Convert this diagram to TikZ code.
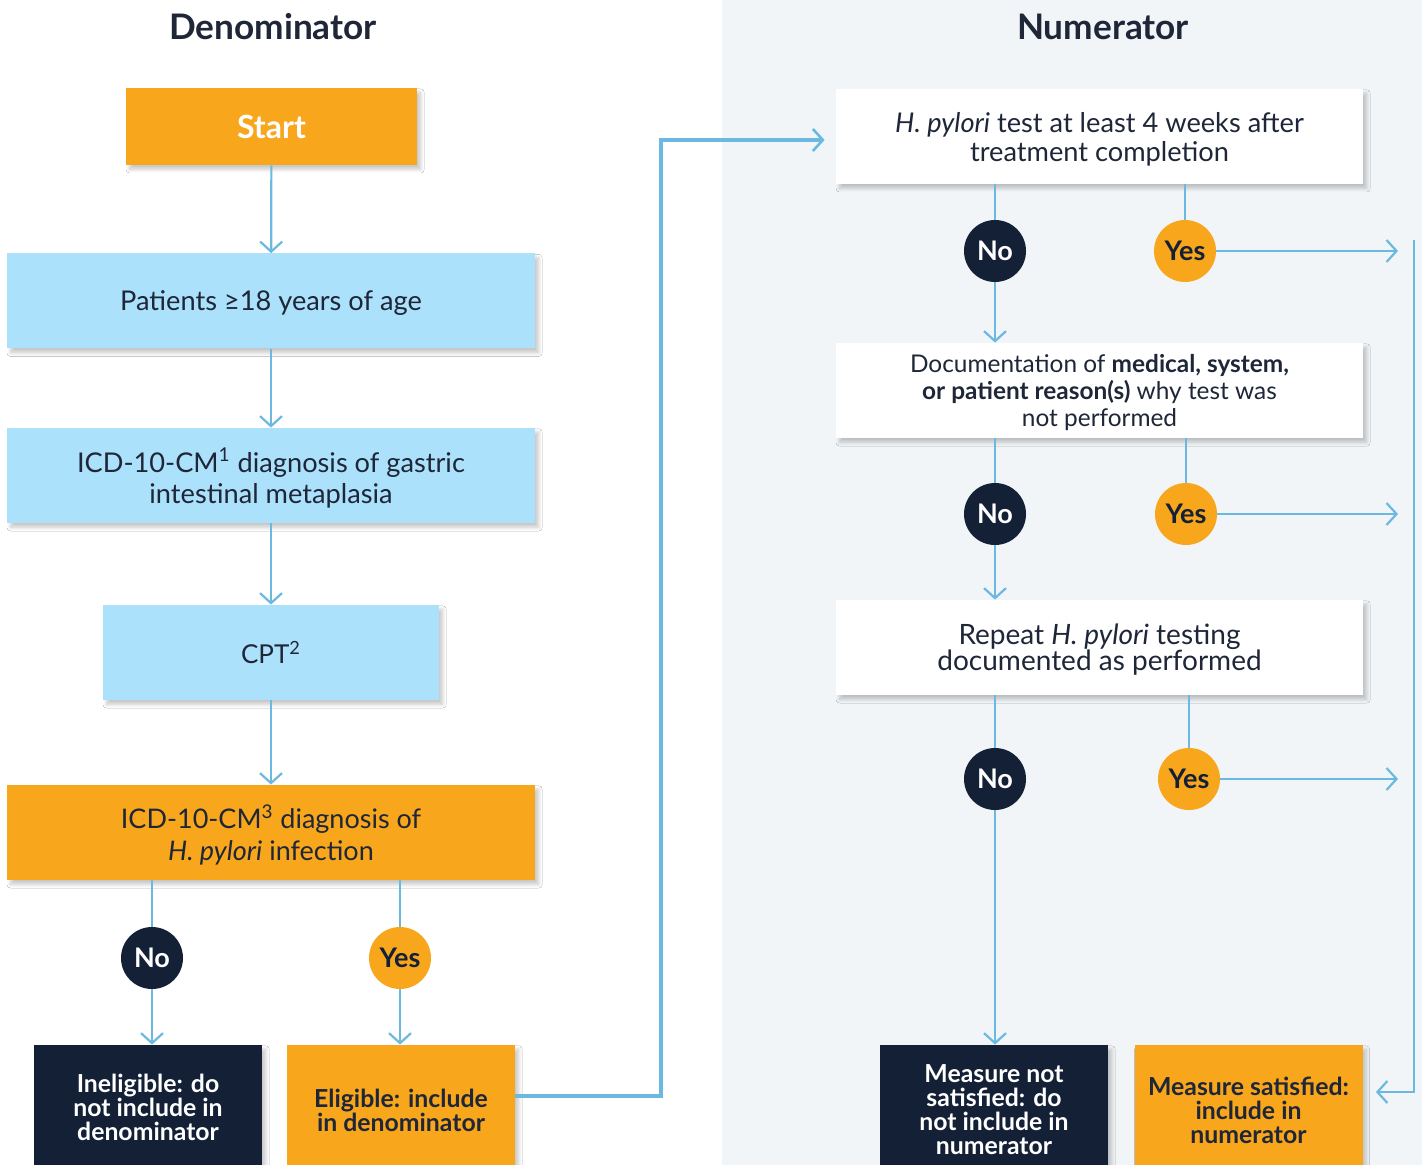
\documentclass[tikz,border=0pt]{standalone}
\usepackage{fontspec}
\setmainfont{Lato}
\usepackage{tikz}
\usetikzlibrary{positioning, arrows.meta, shadows.blur}
\definecolor{HpOrange}{RGB}{248,166,28}
\definecolor{SkyBlue}{RGB}{171,225,250}
\definecolor{NavyInk}{RGB}{19,32,54}
\definecolor{FlowBlue}{RGB}{107,185,224}
\definecolor{PanelGrey}{RGB}{241,245,248}
\definecolor{TextInk}{RGB}{30,38,56}

\begin{document}
\begin{tikzpicture}[x=0.5pt, y=-0.5pt,
    box/.style={rectangle, minimum width=#1, minimum height=47.5pt, inner sep=0pt,
        align=center, text=TextInk, text depth=0pt, font=\fontsize{13.6}{16}\selectfont,
        blur shadow={shadow xshift=1.8pt, shadow yshift=-2.2pt, shadow blur radius=1.8pt,
            shadow blur steps=8, shadow opacity=22}},
    box/.default=264pt,
    bluebox/.style={box=#1, fill=SkyBlue},
    bluebox/.default=264pt,
    orangebox/.style={box=#1, fill=HpOrange},
    orangebox/.default=264pt,
    whitebox/.style={box=263.5pt, fill=white},
    endbox/.style={rectangle, minimum width=114pt, minimum height=65pt, inner sep=0pt,
        align=center, font=\fontsize{12.4}{12}\selectfont\bfseries,
        blur shadow={shadow xshift=1.8pt, shadow yshift=-2.2pt, shadow blur radius=1.8pt,
            shadow blur steps=8, shadow opacity=22}},
    nocirc/.style={circle, fill=NavyInk, text=white, minimum size=31pt, inner sep=0pt,
        font=\fontsize{13.5}{15}\selectfont\bfseries},
    yescirc/.style={circle, fill=HpOrange, text=NavyInk, minimum size=31pt, inner sep=0pt,
        font=\fontsize{13.5}{15}\selectfont\bfseries},
    title/.style={font=\fontsize{17.6}{20}\selectfont\bfseries, text=TextInk},
    flow/.style={draw=FlowBlue, line width=1.1pt},
    flowarr/.style={flow, -{Straight Barb[length=5pt, width=11pt]}},
    flowthick/.style={draw=FlowBlue, line width=2pt, -{Straight Barb[length=5pt, width=11pt, line width=1.3pt]}}
]
    % Lienzo y panel derecho
    \useasboundingbox (0,0) rectangle (1422,1165);
    \fill[white] (0,0) rectangle (722,1165);
    \fill[PanelGrey] (722,0) rectangle (1422,1165);

    % Titulos
    \node[title] (denom) at (273,27) {Denominator};
    \node[title] (numer) at (1103,27) {Numerator};

    % Columna del denominador
    \node[orangebox=145.5pt, minimum height=38.5pt, text=white,
        font=\fontsize{16}{18}\selectfont\bfseries] (start) at (271.5,126.5) {Start};
    \node[bluebox] (age) at (271,301) {Patients ≥18 years of age};
    \node[bluebox, font=\fontsize{13.6}{15.5}\selectfont] (icdgim) at (271,475.5)
        {ICD-10-CM\textsuperscript{1} diagnosis of gastric\\intestinal metaplasia};
    \node[bluebox=168pt, font=\fontsize{13}{15}\selectfont] (cpt) at (271,652.5) {CPT\textsuperscript{2}};
    \node[orangebox, font=\fontsize{13.5}{16}\selectfont] (icdhp) at (271,832.5)
        {ICD-10-CM\textsuperscript{3} diagnosis of\\\textit{H. pylori} infection};
    \node[endbox, minimum height=62pt, fill=NavyInk, text=white] (inelig) at (148,1107)
        {Ineligible: do\\not include in\\denominator};
    \node[endbox, fill=HpOrange, text=TextInk] (elig) at (401,1110)
        {Eligible: include\\in denominator};

    % Columna del numerador
    \node[whitebox, font=\fontsize{13.6}{14.5}\selectfont] (test) at (1099.5,136.5)
        {\textit{H. pylori} test at least 4 weeks after\\treatment completion};
    \node[whitebox, font=\fontsize{12.2}{13.3}\selectfont] (doc) at (1099.5,390.5)
        {Documentation of \textbf{medical, system,}\\\textbf{or patient reason(s)} why test was\\not performed};
    \node[whitebox, font=\fontsize{14}{13}\selectfont] (repeat) at (1099.5,647.5)
        {Repeat \textit{H. pylori} testing\\documented as performed};
    \node[endbox, fill=NavyInk, text=white] (notsat) at (994,1110)
        {Measure not\\satisfied: do\\not include in\\numerator};
    \node[endbox, fill=HpOrange, text=TextInk] (sat) at (1248.5,1110)
        {Measure satisfied:\\include in\\numerator};

    % Circulos de decision
    \foreach \nm/\x/\y in {no0/152/958, no1/995/251, no2/995/514, no3/995/779}
        \node[nocirc] (\nm) at (\x,\y) {No};
    \foreach \nm/\x/\y in {yes0/400/958, yes1/1185/251, yes2/1186/514, yes3/1189/779}
        \node[yescirc] (\nm) at (\x,\y) {Yes};

    % Flechas del denominador
    \draw[flowarr] (start) -- (age);
    \draw[flowarr] (age) -- (icdgim);
    \draw[flowarr] (icdgim) -- (cpt);
    \draw[flowarr] (cpt) -- (icdhp);
    \draw[flow] (no0 |- icdhp.south) -- (no0.north);
    \draw[flowarr] (no0.south) -- (no0 |- inelig.north);
    \draw[flow] (yes0 |- icdhp.south) -- (yes0.north);
    \draw[flowarr] (yes0.south) -- (yes0 |- elig.north);

    % Paso al numerador
    \coordinate (bend) at (661,1096);
    \draw[flowthick] ([yshift=7pt]elig.east) -- (bend) |- ([xshift=-5.5pt, yshift=-1.75pt]test.west);

    % Flechas del numerador
    \draw[flow] (no1 |- test.south) -- (no1.north);
    \draw[flowarr] (no1.south) -- (no1 |- doc.north);
    \draw[flow] (yes1 |- test.south) -- (yes1.north);
    \draw[flow] (no2 |- doc.south) -- (no2.north);
    \draw[flowarr] (no2.south) -- (no2 |- repeat.north);
    \draw[flow] (yes2 |- doc.south) -- (yes2.north);
    \draw[flow] (no3 |- repeat.south) -- (no3.north);
    \draw[flowarr] (no3.south) -- (no3 |- notsat.north);
    \draw[flow] (yes3 |- repeat.south) -- (yes3.north);

    % Salidas "Yes" hacia la derecha
    \coordinate (rightedge) at (1398,251);
    \foreach \nm in {yes1, yes2, yes3}
        \draw[flowarr] (\nm.east) -- (\nm -| rightedge);

    % Retorno a "Measure satisfied"
    \coordinate (railtop) at (1414,240);
    \draw[flowarr] (railtop) |- ([xshift=6.5pt, yshift=9pt]sat.east);
\end{tikzpicture}
\end{document}
